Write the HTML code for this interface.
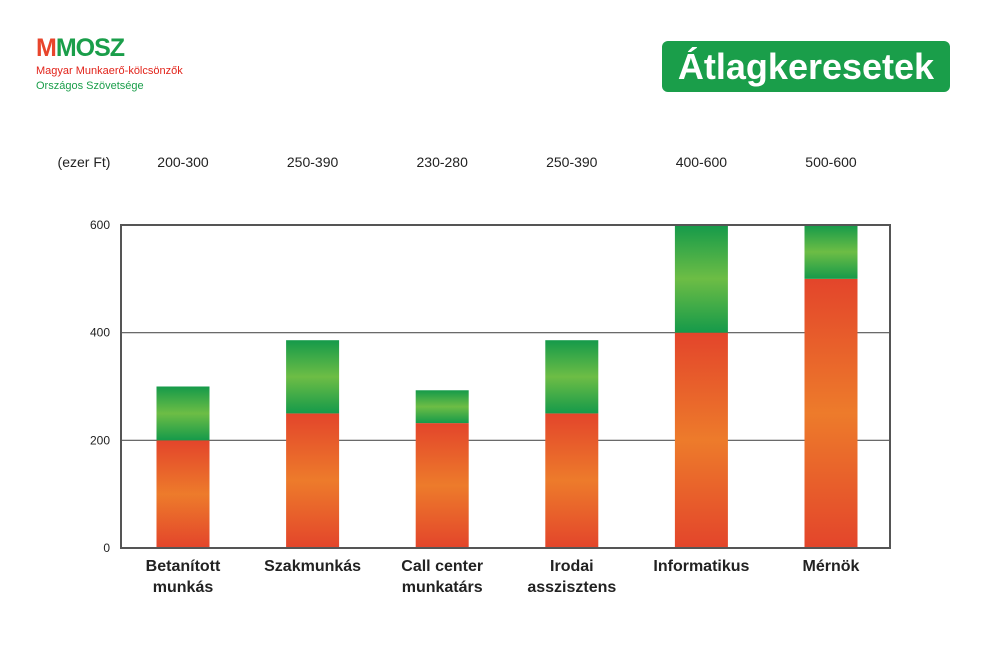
<!DOCTYPE html>
<html><head><meta charset="utf-8"><style>
body{margin:0;width:1000px;height:672px;background:#fff;font-family:"Liberation Sans",sans-serif;overflow:hidden;position:relative}
.abs{position:absolute}
</style></head><body>
<div class="abs" style="left:36px;top:34px">
 <div style="font-weight:bold;font-size:25px;letter-spacing:-1px;line-height:28px"><span style="color:#e8452c">M</span><span style="color:#1a9e4a">M</span><span style="color:#1a9e4a">OSZ</span></div>
 <div style="color:#e2231a;font-size:11px;margin-top:3px">Magyar Munkaerő-kölcsönzők</div>
 <div style="color:#1a9e4a;font-size:11px;margin-top:3px">Országos Szövetsége</div>
</div>
<div class="abs" style="left:662px;top:41px;width:288px;height:51px;background:#1a9e4a;border-radius:6px;color:#fff;font-weight:bold;font-size:36px;line-height:51px;text-align:center">Átlagkeresetek</div>
<svg class="abs" style="left:0;top:0" width="1000" height="672" id="chart">
<defs>
<linearGradient id="gr" x1="0" y1="0" x2="0" y2="1"><stop offset="0" stop-color="#e3452b"/><stop offset=".5" stop-color="#ed7b2b"/><stop offset="1" stop-color="#e3452b"/></linearGradient>
<linearGradient id="gg" x1="0" y1="0" x2="0" y2="1"><stop offset="0" stop-color="#159a4a"/><stop offset=".5" stop-color="#6dbd45"/><stop offset="1" stop-color="#159a4a"/></linearGradient>
</defs>
</svg>
<script>
const categories=[["Betanított","munkás"],["Szakmunkás"],["Call center","munkatárs"],["Irodai","asszisztens"],["Informatikus"],["Mérnök"]];
const minValues=[200,250,232,250,400,500];
const maxValues=[300,386,293,386,600,600];
const rangeLabels=["200-300","250-390","230-280","250-390","400-600","500-600"];
const yTicks=[0,200,400,600];
const svg=document.getElementById('chart');const NS='http://www.w3.org/2000/svg';
const L=121,R=890,T=225,B=548;
const y=v=>B-(v/600)*(B-T);
const cx=i=>183+i*129.6;
function mk(t,a,txt){const e=document.createElementNS(NS,t);for(const k in a)e.setAttribute(k,a[k]);if(txt!=null)e.textContent=txt;svg.appendChild(e);return e;}
yTicks.forEach(v=>{
 if(v>0&&v<600){const g=mk('line',{x1:L,x2:R,y1:y(v),y2:y(v),stroke:'#555','stroke-width':1.2});
 
 }
 const t=mk('text',{x:110,y:y(v)+4,'text-anchor':'end','font-size':12,fill:'#222'},v);
 
 
});
categories.forEach((c,i)=>{
 const x=cx(i)-26.5;
 const r=mk('rect',{x:x,y:y(minValues[i]),width:53,height:B-y(minValues[i]),fill:'url(#gr)'});
 
 
 const g=mk('rect',{x:x,y:y(maxValues[i]),width:53,height:y(minValues[i])-y(maxValues[i]),fill:'url(#gg)'});
 
 
 const rl=mk('text',{x:cx(i),y:167,'text-anchor':'middle','font-size':14,fill:'#222'},rangeLabels[i]);
 
 
 c.forEach((ln,j)=>{const t=mk('text',{x:cx(i),y:571+j*21,'text-anchor':'middle','font-size':16,'font-weight':'bold',fill:'#222'},ln);
 
 });
});
const u=mk('text',{x:84,y:167,'text-anchor':'middle','font-size':14,fill:'#222'},'(ezer Ft)');


const f=mk('rect',{x:L,y:T,width:R-L,height:B-T,fill:'none',stroke:'#555','stroke-width':2});


</script>
</body></html>
